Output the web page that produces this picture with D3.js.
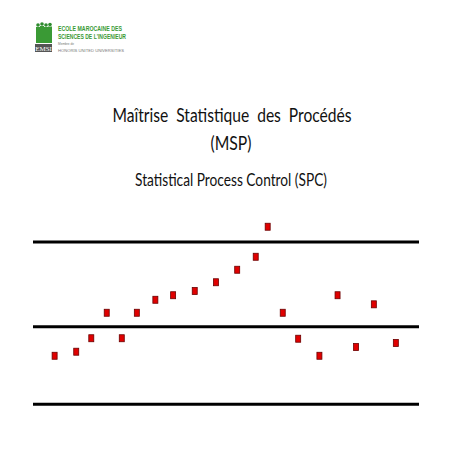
<!DOCTYPE html>
<html><head><meta charset="utf-8">
<script src="https://cdn.jsdelivr.net/npm/d3@7"></script>
<style>body{margin:0;background:#fff}svg{display:block}</style>
</head><body>
<script>
// Data
const sampleIdx = [5.6,11.2,15.1,19.1,23.0,26.9,31.7,36.3,41.9,47.4,52.9,57.7,60.8,64.7,68.7,74.2,78.9,83.7,88.3,94.0];
const measures  = [2.99,3.24,4.07,5.64,4.07,5.64,6.44,6.72,6.98,7.52,8.29,9.09,10.94,5.64,4.04,2.99,6.72,3.53,6.16,3.78];
const limitNames = ["LCL","CL","UCL"];
const limitValues = [0, 4.78, 10];
const titleLines = ["Maîtrise  Statistique  des  Procédés","(MSP)"];
const subtitle = "Statistical Process Control (SPC)";
const logoLines = ["ECOLE MAROCAINE DES","SCIENCES DE L'INGENIEUR"];
const logoSmall = ["Membre de","HONORIS UNITED UNIVERSITIES"];

const W=452,H=452;
const svg=d3.select("body").append("svg").attr("width",W).attr("height",H);
const x=d3.scaleLinear().domain([0,100]).range([33,419]);
const y=d3.scaleLinear().domain([0,10]).range([404.3,242]);

// Logo
const logo=svg.append("g");
const figs=[[38,1],[42,0],[46,1],[50,0.5]];
figs.forEach(([fx,o])=>{
  logo.append("circle").attr("cx",fx).attr("cy",24+o).attr("r",1.8).attr("fill","#2e8b2e");
  logo.append("rect").attr("x",fx-2).attr("y",26+o).attr("width",4).attr("height",17-o).attr("fill","#3a9a35");
});
logo.append("rect").attr("x",35).attr("y",44).attr("width",17).attr("height",8).attr("fill","#555");
logo.append("text").attr("x",43.5).attr("y",51).attr("text-anchor","middle").attr("font-family","Liberation Serif").attr("font-size",7).attr("fill","#fff").text("EMSI");
logo.selectAll("text.l").data(logoLines).join("text").attr("class","l")
  .attr("x",58).attr("y",(d,i)=>31+i*8).attr("font-family","Liberation Sans Narrow, Liberation Sans").attr("font-weight","bold")
  .attr("font-size",6.3).attr("fill","#3a9a35").attr("textLength",(d,i)=>i?68:64).attr("lengthAdjust","spacingAndGlyphs").text(d=>d);
logo.selectAll("text.s").data(logoSmall).join("text").attr("class","s")
  .attr("x",58).attr("y",(d,i)=>45+i*7).attr("font-family","Liberation Sans").attr("font-size",(d,i)=>i?3.6:3.2)
  .attr("fill","#777").attr("textLength",(d,i)=>i?66:16).attr("lengthAdjust","spacingAndGlyphs").text(d=>d);

// Titles
svg.append("text").attr("x",232).attr("y",122).attr("text-anchor","middle").attr("font-family","Lato")
  .attr("font-size",19.5).attr("fill","#111").style("white-space","pre").attr("textLength",239).attr("lengthAdjust","spacingAndGlyphs").text(titleLines[0]);
svg.append("text").attr("x",231).attr("y",150).attr("text-anchor","middle").attr("font-family","Lato")
  .attr("font-size",19.5).attr("fill","#111").attr("textLength",41).attr("lengthAdjust","spacingAndGlyphs").text(titleLines[1]);
svg.append("text").attr("x",231).attr("y",186).attr("text-anchor","middle").attr("font-family","Lato")
  .attr("font-size",17).attr("fill","#111").attr("textLength",192).attr("lengthAdjust","spacingAndGlyphs").text(subtitle);

// Control limit lines
svg.selectAll("line.lim").data(limitValues).join("line").attr("class","lim")
  .attr("x1",x(0)).attr("x2",x(100)).attr("y1",d=>y(d)).attr("y2",d=>y(d))
  .attr("stroke","#000").attr("stroke-width",3);

// Points
svg.selectAll("rect.pt").data(measures).join("rect").attr("class","pt")
  .attr("x",(d,i)=>x(sampleIdx[i])-2.5).attr("y",d=>y(d)-3.5).attr("width",5).attr("height",7)
  .attr("fill","#e00000").attr("stroke","#6a0000").attr("stroke-width",0.8);
</script>
</body></html>
